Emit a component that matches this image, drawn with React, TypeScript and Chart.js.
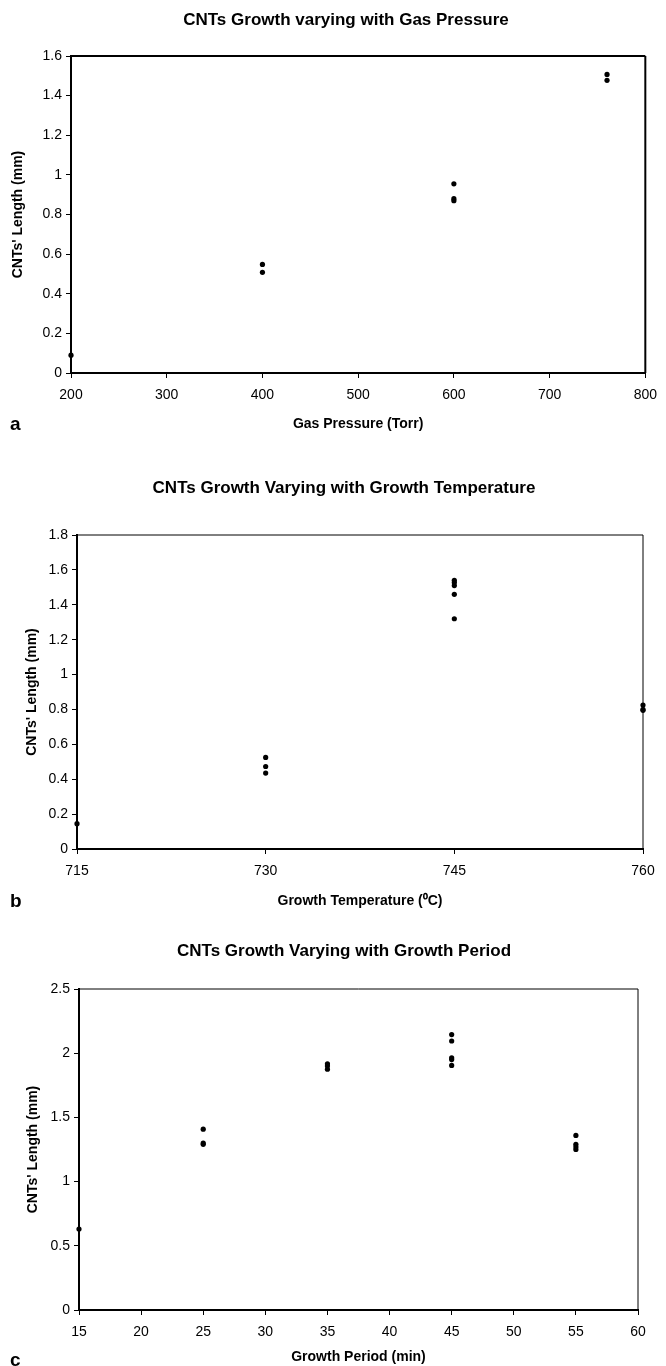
import React, { useEffect, useRef } from "react";
import { Chart, registerables } from "chart.js";

Chart.register(...registerables);

// ---------- data ----------
const pressureTorr = [200, 400, 400, 600, 600, 600, 760, 760];
const pressureLength = [0.09, 0.548, 0.508, 0.955, 0.88, 0.87, 1.507, 1.477];

const temperatureC = [715, 730, 730, 730, 745, 745, 745, 745, 745, 760, 760, 760];
const temperatureLength = [0.145, 0.525, 0.473, 0.435, 1.54, 1.527, 1.51, 1.46, 1.32, 0.825, 0.8, 0.795];

const periodMin = [15, 25, 25, 25, 35, 35, 35, 45, 45, 45, 45, 45, 55, 55, 55, 55];
const periodLength = [0.63, 1.408, 1.3, 1.29, 1.918, 1.9, 1.875, 2.145, 2.095, 1.964, 1.95, 1.905, 1.36, 1.29, 1.27, 1.25];

const titles = [
  "CNTs Growth varying with Gas Pressure",
  "CNTs Growth Varying with Growth Temperature",
  "CNTs Growth Varying with Growth Period",
];
const xTitles = ["Gas Pressure (Torr)", "Growth Temperature (\u2070C)", "Growth Period (min)"];
const yTitle = "CNTs' Length (mm)";
const panelLetters = ["a", "b", "c"];

const xRanges = [
  { min: 200, max: 800, step: 100 },
  { min: 715, max: 760, step: 15 },
  { min: 15, max: 60, step: 5 },
];
const yRanges = [
  { min: 0, max: 1.6, step: 0.2 },
  { min: 0, max: 1.8, step: 0.2 },
  { min: 0, max: 2.5, step: 0.5 },
];

// ---------- layout / style ----------
const W = 666;
const FONT = "'Liberation Sans', Arial, Helvetica, sans-serif";

type Layout = {
  top: number;
  height: number;
  titleX: number;
  titleY: number;
  plotTop: number;
  plotBottom: number;
  plotLeft: number;
  plotRight: number;
  xTitleY: number;
  yTitleX: number;
  letterY: number;
  frameTop: number;
  frameRight: number;
  tickPad: number;
};

const layouts: Layout[] = [
  { top: 0, height: 440, titleX: 346, titleY: 20, plotTop: 56, plotBottom: 373, plotLeft: 71, plotRight: 653, xTitleY: 424, yTitleX: 18, letterY: 424, frameTop: 2, frameRight: 2, tickPad: 9 },
  { top: 445, height: 465, titleX: 344, titleY: 43, plotTop: 90, plotBottom: 404, plotLeft: 77, plotRight: 643, xTitleY: 456, yTitleX: 32, letterY: 456, frameTop: 1, frameRight: 1, tickPad: 9 },
  { top: 915, height: 451, titleX: 344, titleY: 36, plotTop: 74, plotBottom: 395, plotLeft: 79, plotRight: 638, xTitleY: 442, yTitleX: 33, letterY: 445, frameTop: 1, frameRight: 1, tickPad: 9 },
];

const fmt = (v: number) => String(Math.round(v * 1000) / 1000);

const frameLines = {
  id: "frameLines",
  beforeDatasetsDraw(chart: any, _args: any, opts: any) {
    const { ctx, chartArea } = chart;
    ctx.save();
    ctx.strokeStyle = "#000";
    ctx.lineWidth = opts.top;
    ctx.beginPath();
    ctx.moveTo(chartArea.left, chartArea.top);
    ctx.lineTo(chartArea.right, chartArea.top);
    ctx.stroke();
    ctx.lineWidth = opts.right;
    ctx.beginPath();
    ctx.moveTo(chartArea.right, chartArea.top);
    ctx.lineTo(chartArea.right, chartArea.bottom);
    ctx.stroke();
    ctx.restore();
  },
};

const panelTitle = {
  id: "panelTitle",
  afterDraw(chart: any, _args: any, opts: any) {
    const { ctx } = chart;
    ctx.save();
    ctx.fillStyle = "#000";
    ctx.font = `bold ${opts.size}px ${FONT}`;
    ctx.textAlign = "center";
    ctx.textBaseline = "middle";
    ctx.fillText(opts.text, opts.x, opts.y);
    ctx.restore();
  },
};

function Panel({ idx, xs, ys }: { idx: number; xs: number[]; ys: number[] }) {
  const ref = useRef<HTMLCanvasElement>(null);
  const L = layouts[idx];
  useEffect(() => {
    const axisTitleSize = 14;
    const axisLH = axisTitleSize * 1.2;
    const chart = new Chart(ref.current as HTMLCanvasElement, {
      type: "scatter",
      data: {
        datasets: [
          {
            data: xs.map((x, i) => ({ x, y: ys[i] })),
            backgroundColor: "#000",
            borderColor: "#000",
            pointRadius: 2.6,
            pointBorderWidth: 0,
            clip: false as any,
          },
        ],
      },
      plugins: [frameLines, panelTitle],
      options: {
        responsive: false,
        animation: false,
        events: [],
        layout: { padding: { left: 0, right: W - L.plotRight, top: L.plotTop, bottom: 0 } },
        plugins: {
          legend: { display: false },
          tooltip: { enabled: false },
          title: { display: false },
          frameLines: { top: L.frameTop, right: L.frameRight },
          panelTitle: { text: titles[idx], x: L.titleX, y: L.titleY, size: 17 },
        } as any,
        scales: {
          x: {
            type: "linear",
            min: xRanges[idx].min,
            max: xRanges[idx].max,
            ticks: {
              stepSize: xRanges[idx].step,
              color: "#000",
              font: { family: FONT, size: 14 },
              padding: L.tickPad,
              maxRotation: 0,
              autoSkip: false,
              callback: (v: any) => fmt(Number(v)),
            },
            grid: { display: true, drawOnChartArea: false, drawTicks: true, tickLength: 5, color: "#000", lineWidth: 1 },
            border: { display: true, color: "#000", width: 2 },
            title: {
              display: true,
              text: xTitles[idx],
              color: "#000",
              font: { family: FONT, size: axisTitleSize, weight: "bold" },
              padding: { top: 0, bottom: Math.max(0, L.height - L.xTitleY - axisLH / 2) },
            },
            afterFit: (s: any) => {
              s.height = L.height - L.plotBottom;
            },
          },
          y: {
            type: "linear",
            min: yRanges[idx].min,
            max: yRanges[idx].max,
            ticks: {
              stepSize: yRanges[idx].step,
              color: "#000",
              font: { family: FONT, size: 14 },
              padding: 4,
              callback: (v: any) => fmt(Number(v)),
            },
            grid: { display: true, drawOnChartArea: false, drawTicks: true, tickLength: 5, color: "#000", lineWidth: 1 },
            border: { display: true, color: "#000", width: 2 },
            title: {
              display: true,
              text: yTitle,
              color: "#000",
              font: { family: FONT, size: axisTitleSize, weight: "bold" },
              padding: { top: L.yTitleX - axisLH / 2, bottom: 0 },
            },
            afterFit: (s: any) => {
              s.width = L.plotLeft;
            },
          },
        },
      } as any,
    });
    return () => chart.destroy();
  }, []);
  return (
    <div style={{ position: "absolute", left: 0, top: L.top, width: W, height: L.height }}>
      <canvas ref={ref} width={W} height={L.height} style={{ display: "block", width: W, height: L.height }} />
      <div
        style={{
          position: "absolute",
          left: 10,
          top: L.letterY - 11,
          font: `bold 19px ${FONT}`,
          lineHeight: "22px",
          color: "#000",
        }}
      >
        {panelLetters[idx]}
      </div>
    </div>
  );
}

export default function App() {
  return (
    <div style={{ position: "absolute", left: 0, top: 0, width: W, height: 1366, background: "#fff", overflow: "hidden" }}>
      <Panel idx={0} xs={pressureTorr} ys={pressureLength} />
      <Panel idx={1} xs={temperatureC} ys={temperatureLength} />
      <Panel idx={2} xs={periodMin} ys={periodLength} />
    </div>
  );
}
